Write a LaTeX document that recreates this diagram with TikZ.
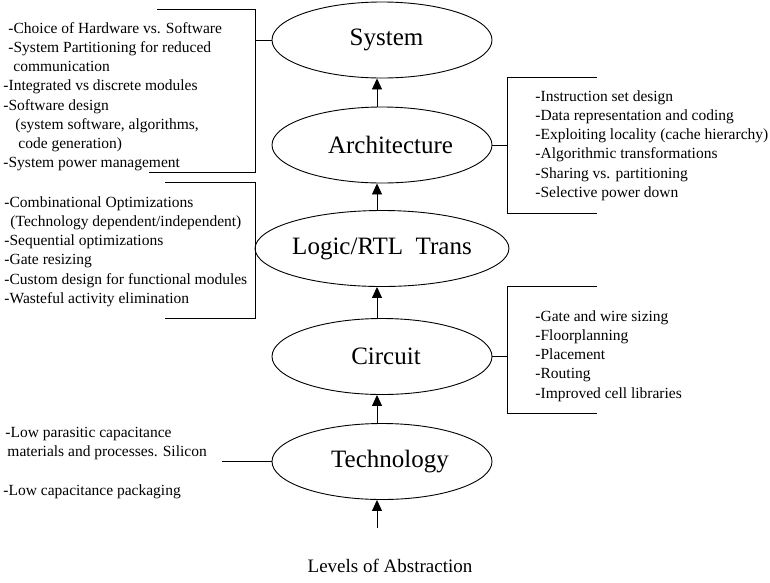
\documentclass[tikz,border=0pt]{standalone}
\usepackage{fontspec}
\setmainfont{Liberation Serif}
\usetikzlibrary{shapes.geometric,arrows.meta}
\begin{document}
\begin{tikzpicture}[x=1pt,y=-1pt,
  line width=0.9pt,
  level/.style={draw,ellipse,minimum width=220pt,minimum height=76pt,inner sep=0pt,
    font=\fontsize{25}{30}\selectfont},
  note/.style={anchor=north west,inner sep=0pt,align=left,
    font=\fontsize{15.5}{19.2}\selectfont},
  up/.style={-{Triangle[length=11pt,width=10pt]}},
  bracket/.style={line width=0.9pt}]
\useasboundingbox (0,0) rectangle (770,582);

% levels
\node[level] (sys)  at (382,40)    {\hspace*{9pt}System};
\node[level] (arch) at (382,145)   {\hspace*{17pt}Architecture};
\node[level] (logic) at (382,248.5) {Logic/RTL\ \ Trans};
\node[level] (circ) at (382,356.5) {\hspace*{8pt}Circuit};
\node[level] (tech) at (382,461.5) {\hspace*{16pt}Technology};

% arrows between levels
\draw[up] ([xshift=-5pt]arch.north)  -- ([xshift=-5pt]sys.south);
\draw[up] ([xshift=-5pt]logic.north) -- ([xshift=-5pt]arch.south);
\draw[up] ([xshift=-5pt]circ.north)  -- ([xshift=-5pt]logic.south);
\draw[up] ([xshift=-5pt]tech.north)  -- ([xshift=-5pt]circ.south);
\coordinate (src) at (377,528);
\draw[up] (src) -- ([xshift=-5pt]tech.south);

% brackets
\coordinate (sysT1) at (157,9);   \coordinate (sysT2) at (255,9);
\coordinate (sysB2) at (255,172); \coordinate (sysB1) at (149,172);
\draw[bracket] (sysT1) -- (sysT2) -- (sysB2) -- (sysB1);
\draw (sys.west) -- (sys.west -| sysT2);

\coordinate (arT1) at (597,77);  \coordinate (arT2) at (507,77);
\coordinate (arB2) at (507,213); \coordinate (arB1) at (597,213);
\draw[bracket] (arT1) -- (arT2) -- (arB2) -- (arB1);
\draw (arch.east) -- (arch.east -| arT2);

\coordinate (lgT1) at (165,182);  \coordinate (lgT2) at (255,182);
\coordinate (lgB2) at (255,318);  \coordinate (lgB1) at (165,318);
\draw[bracket] (lgT1) -- (lgT2) -- (lgB2) -- (lgB1);
\draw (logic.west) -- (logic.west -| lgT2);

\coordinate (ciT1) at (597,286);  \coordinate (ciT2) at (507,286);
\coordinate (ciB2) at (507,413);  \coordinate (ciB1) at (597,413);
\draw[bracket] (ciT1) -- (ciT2) -- (ciB2) -- (ciB1);
\draw (circ.east) -- (circ.east -| ciT2);

\coordinate (teL) at (222,461.5);
\draw (tech.west) -- (teL);

% notes
\node[note] (nsys) at (3,22) {%
\hspace*{5pt}-Choice of Hardware vs. Software\\
\hspace*{5pt}-System Partitioning for reduced\\
\hspace*{10pt}communication\\
-Integrated vs discrete modules\\
-Software design\\
\hspace*{12pt}(system software, algorithms,\\
\hspace*{15pt}code generation)\\
-System power management};

\node[note] (narch) at (535,90) {%
-Instruction set design\\
-Data representation and coding\\
-Exploiting locality (cache hierarchy)\\
-Algorithmic transformations\\
-Sharing vs. partitioning\\
-Selective power down};

\node[note] (nlogic) at (4,196) {%
-Combinational Optimizations\\
\hspace*{6pt}(Technology dependent/independent)\\
-Sequential optimizations\\
-Gate resizing\\
-Custom design for functional modules\\
-Wasteful activity elimination};

\node[note] (ncirc) at (535,310) {%
-Gate and wire sizing\\
-Floorplanning\\
-Placement\\
-Routing\\
-Improved cell libraries};

\node[note] (ntech) at (3,427) {%
\hspace*{2pt}-Low parasitic capacitance\\
\hspace*{4pt}materials and processes. Silicon\\[19.2pt]
-Low capacitance packaging};

\node[font=\fontsize{19}{23}\selectfont,inner sep=0pt] (lvl) at (390,566) {Levels of Abstraction};
\end{tikzpicture}
\end{document}
